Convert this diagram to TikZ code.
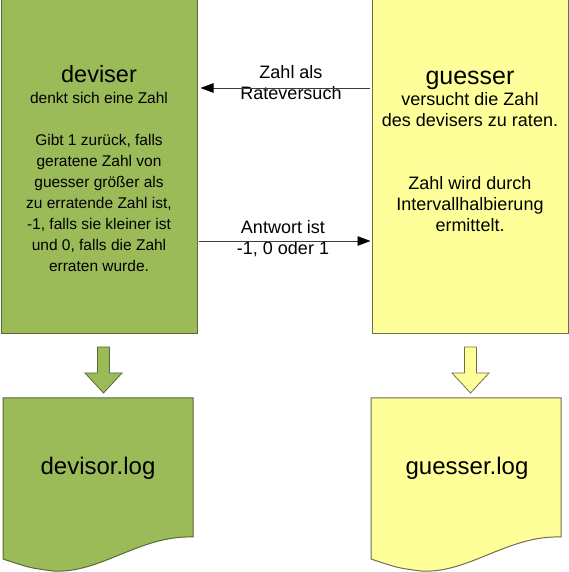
\documentclass[tikz,border=0pt]{standalone}
\usepackage{fontspec}
\setmainfont{Liberation Sans}
\usetikzlibrary{arrows.meta,positioning}
\definecolor{devgreen}{RGB}{155,187,89}
\definecolor{devline}{RGB}{88,106,54}
\definecolor{guessyellow}{RGB}{255,255,153}
\definecolor{guessline}{RGB}{110,110,74}
\definecolor{msgline}{RGB}{60,60,60}

\begin{document}
\begin{tikzpicture}[x=1pt,y=1pt,>={Triangle[length=13pt,width=9.5pt,color=black]},node distance=174pt,
  box/.style={draw,line width=1pt,minimum width=196pt,minimum height=335pt,inner sep=0pt},
  boxtext/.style={align=center,inner sep=0pt,font=\fontsize{15.5}{21}\selectfont},
  msg/.style={align=center,inner sep=0pt,font=\fontsize{18}{21}\selectfont},
  msgarrow/.style={->,draw=msgline,line width=0.8pt},
  blockarrow/.style={line width=0.8pt},
  logdoc/.style={line width=1pt},
  logtext/.style={font=\fontsize{24}{24}\selectfont}]
  \useasboundingbox (0,0) rectangle (569,572);
  \node[box,fill=devgreen,draw=devline] (deviser) at (99,405.5) {};
  \node[box,fill=guessyellow,draw=guessline] (guesser) [right=of deviser] {};
  \node[boxtext] (devtext) [below=67pt of deviser.north] {{\fontsize{23.5}{23}\selectfont deviser}\\denkt sich eine Zahl\\[21pt]Gibt 1 zurück, falls\\geratene Zahl von\\guesser größer als\\zu erratende Zahl ist,\\-1, falls sie kleiner ist\\und 0, falls die Zahl\\erraten wurde.};
  \node[boxtext,font=\fontsize{18}{21}\selectfont] (guesstext) [below=67.5pt of guesser.north] {{\fontsize{25}{23}\selectfont\vphantom{d}guesser}\\versucht die Zahl\\des devisers zu raten.\\[42pt]Zahl wird durch\\Intervallhalbierung\\ermittelt.};
  % messages
  \node[msg] (guess) at (291,489) {Zahl als\\Rateversuch};
  \node[msg] (answer) at (283,333) {Antwort ist\\-1, 0 oder 1};
  \draw[msgarrow,shorten <=2pt,shorten >=3pt] ([yshift=-5pt]guesser.west |- guess) -- ([yshift=-5pt]deviser.east |- guess);
  \draw[msgarrow,shorten <=1pt,shorten >=1pt] ([yshift=-2pt]deviser.east |- answer) -- ([yshift=-2pt]guesser.west |- answer);
  % block arrows
  \draw[blockarrow,fill=devgreen,draw=devline] (97.5,225) -- (109.5,225) -- (109.5,199) -- (122,199) -- (103.5,179) -- (85,199) -- (97.5,199) -- cycle;
  \draw[blockarrow,fill=guessyellow,draw=guessline,xshift=367pt] (97.5,225) -- (109.5,225) -- (109.5,199) -- (122,199) -- (103.5,179) -- (85,199) -- (97.5,199) -- cycle;
  % log files
  \draw[logdoc,fill=devgreen,draw=devline] (3,174) -- (193,174) -- (193,35) .. controls (140,37) and (100,-2) .. (53,1) .. controls (30,4) .. (3,13) -- cycle;
  \draw[logdoc,fill=guessyellow,draw=guessline,xshift=368pt] (3,174) -- (193,174) -- (193,35) .. controls (140,37) and (100,-2) .. (53,1) .. controls (30,4) .. (3,13) -- cycle;
  \node[logtext] (devlog) at (98,104) {devisor.log};
  \node[logtext] (guesslog) at (467,104) {guesser.log};
\end{tikzpicture}
\end{document}
